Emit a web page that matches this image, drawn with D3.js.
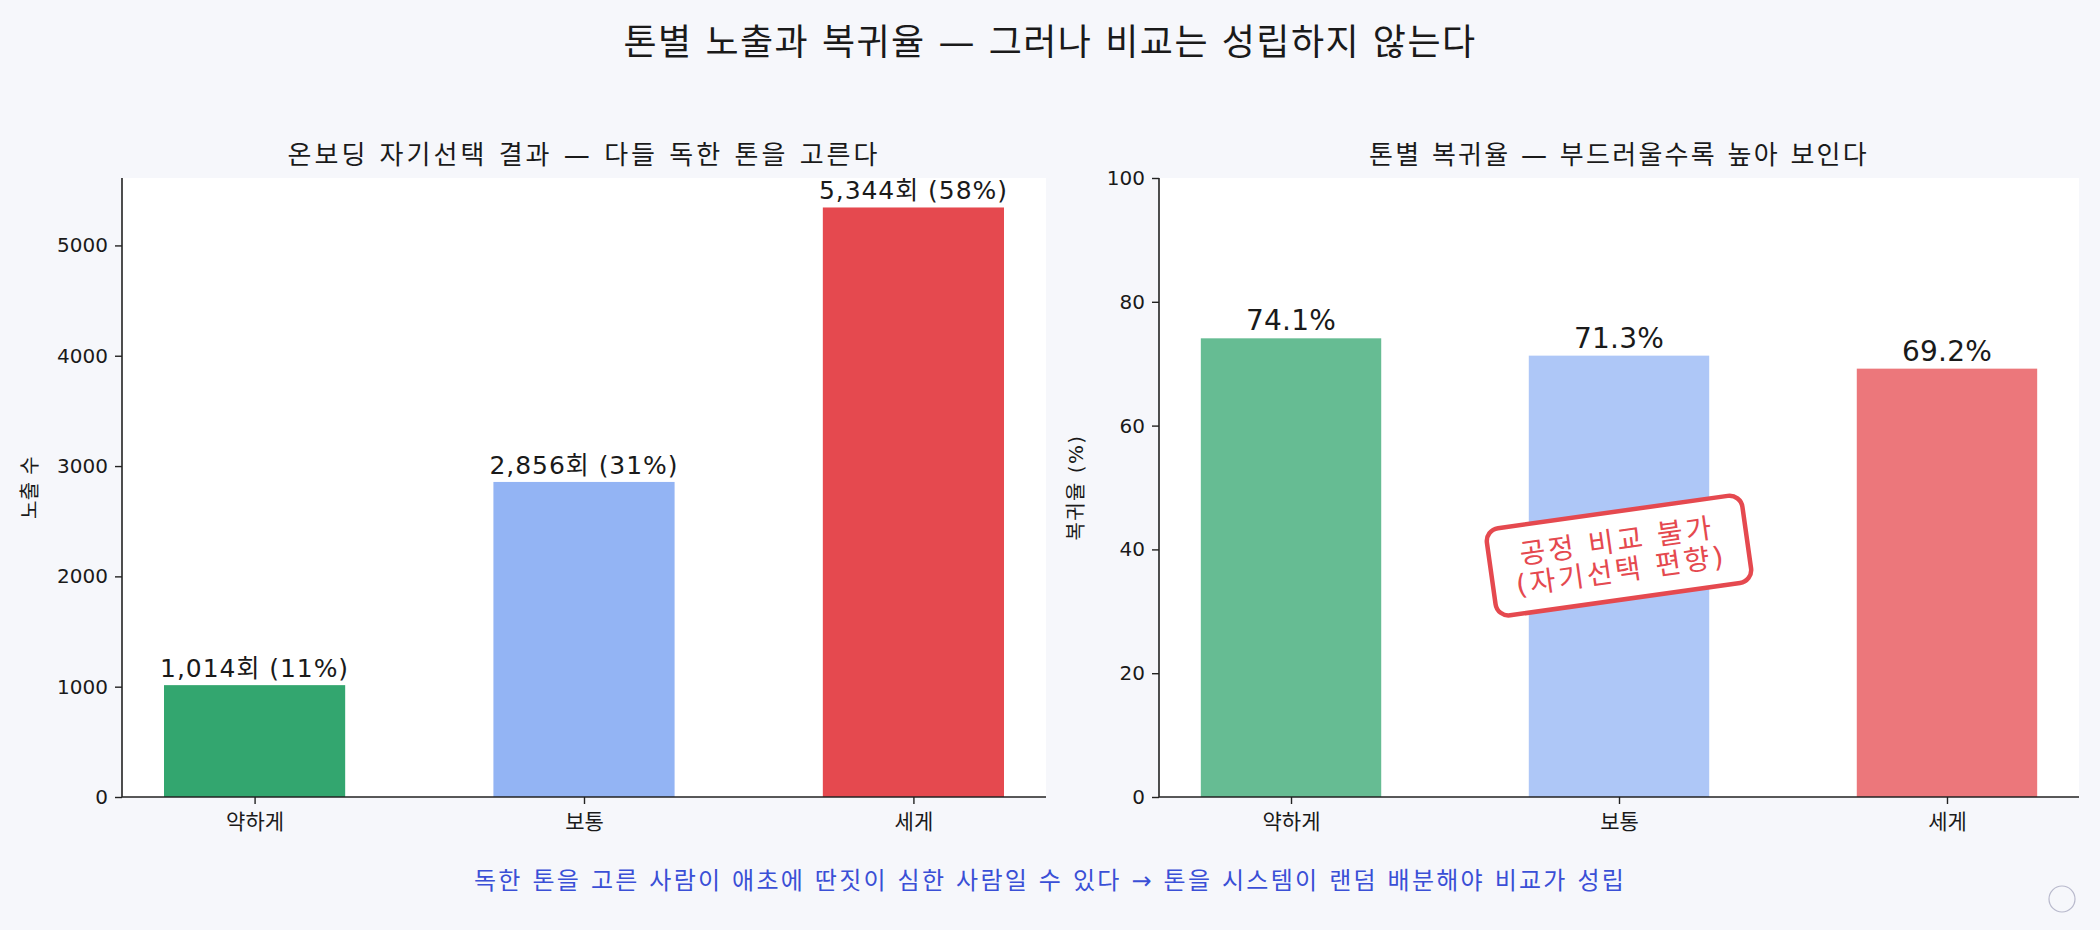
<!DOCTYPE html>
<html>
<head>
<meta charset="utf-8">
<script src="https://cdn.jsdelivr.net/npm/d3@7"></script>
<style>
  html, body { margin: 0; padding: 0; background: #f6f7fb; }
  svg text { font-family: "DejaVu Sans", "Noto Sans CJK KR", sans-serif; fill: #1a1a1a; }
</style>
</head>
<body>
<script>
// data
var tones = ['약하게', '보통', '세게'];
var exposures = [1014, 2856, 5344];
var shares = [11, 31, 58];
var returnRates = [74.1, 71.3, 69.2];
var toneColors = ['#33a66f', '#93b4f4', '#e5494f'];
var exposureTicks = [0, 1000, 2000, 3000, 4000, 5000];
var rateTicks = [0, 20, 40, 60, 80, 100];

var width = 2100, height = 930;
var svg = d3.select('body').append('svg').attr('width', width).attr('height', height);
svg.append('rect').attr('width', width).attr('height', height).attr('fill', '#f6f7fb');

// stretch a text to the width it has in the picture
function fit(sel, target) {
    sel.each(function () {
        var n = this.getNumberOfChars();
        var len = this.getComputedTextLength();
        d3.select(this).style('letter-spacing', ((target - len) / n) + 'px');
    });
}

// main title
svg.append('text').attr('x', 1050).attr('y', 55).attr('text-anchor', 'middle')
    .style('font-size', '36px').text('톤별 노출과 복귀율 — 그러나 비교는 성립하지 않는다')
    .call(fit, 853);

var plotTop = 178, plotBottom = 797;
var barW = 0.55;

function panel(o) {
    var x = d3.scaleLinear().domain([-barW / 2 - 0.1275, 2 + barW / 2 + 0.1275]).range([o.x0, o.x1]);
    var y = d3.scaleLinear().domain([0, o.yMax]).range([plotBottom, plotTop]);
    var g = svg.append('g');

    g.append('rect').attr('x', o.x0).attr('y', plotTop).attr('width', o.x1 - o.x0)
        .attr('height', plotBottom - plotTop).attr('fill', '#fff');

    g.selectAll('rect.bar').data(o.values).enter().append('rect')
        .attr('class', 'bar')
        .attr('x', function (d, i) { return x(i - barW / 2); })
        .attr('width', function (d, i) { return x(i + barW / 2) - x(i - barW / 2); })
        .attr('y', function (d) { return y(d); })
        .attr('height', function (d) { return plotBottom - y(d); })
        .attr('fill', function (d, i) { return toneColors[i]; })
        .attr('fill-opacity', o.opacity);

    g.selectAll('text.val').data(o.values).enter().append('text')
        .attr('class', 'val')
        .attr('x', function (d, i) { return x(i); })
        .attr('y', function (d) { return y(d) - 8; })
        .attr('text-anchor', 'middle')
        .style('font-size', o.labelSize + 'px')
        .text(o.label)
        .call(fit, o.labelWidth);

    var yAxis = g.append('g').attr('transform', 'translate(' + o.x0 + ',0)')
        .call(d3.axisLeft(y).tickValues(o.ticks).tickSize(7).tickPadding(7).tickFormat(d3.format('d')));
    var xAxis = g.append('g').attr('transform', 'translate(0,' + plotBottom + ')')
        .call(d3.axisBottom(x).tickValues([0, 1, 2]).tickSize(7).tickPadding(10)
            .tickFormat(function (i) { return tones[i]; }));
    [yAxis, xAxis].forEach(function (a) {
        a.selectAll('path').attr('stroke', '#222').attr('stroke-width', 1.6);
        a.selectAll('line').attr('stroke', '#222').attr('stroke-width', 1.4);
        a.selectAll('text').style('font-size', '20px').attr('fill', '#1a1a1a');
    });
    xAxis.selectAll('text').style('font-size', '21px');
    xAxis.select('path').attr('d', 'M' + o.x0 + ',0H' + o.x1);
    yAxis.select('path').attr('d', 'M0,' + plotBottom + 'V' + plotTop);

    g.append('text').attr('x', (o.x0 + o.x1) / 2).attr('y', 164).attr('text-anchor', 'middle')
        .style('font-size', '26px').text(o.title).call(fit, o.titleWidth);
    g.append('text')
        .attr('transform', 'translate(' + (o.x0 - o.ylabelOffset) + ',' + ((plotTop + plotBottom) / 2) + ') rotate(-90)')
        .attr('text-anchor', 'middle').style('font-size', '20px').text(o.ylabel)
        .call(fit, o.ylabelWidth);
    return { x: x, y: y };
}

panel({
    x0: 122, x1: 1046, values: exposures, yMax: 5344 * 1.05, ticks: exposureTicks,
    title: '온보딩 자기선택 결과 — 다들 독한 톤을 고른다', titleWidth: 593,
    ylabel: '노출 수', ylabelWidth: 63, ylabelOffset: 85, opacity: 1,
    label: function (d, i) { return d3.format(',')(d) + '회 (' + shares[i] + '%)'; },
    labelSize: 25, labelWidth: 189
});

var right = panel({
    x0: 1159, x1: 2079, values: returnRates, yMax: 100, ticks: rateTicks,
    title: '톤별 복귀율 — 부드러울수록 높아 보인다', titleWidth: 500,
    ylabel: '복귀율 (%)', ylabelWidth: 106, ylabelOffset: 76, opacity: 0.75,
    label: function (d) { return d.toFixed(1) + '%'; },
    labelSize: 28, labelWidth: 90
});

// stamp
var stamp = svg.append('g')
    .attr('transform', 'translate(' + right.x(1) + ',' + right.y(39) + ') rotate(-8)');
stamp.append('rect').attr('x', -129).attr('y', -44).attr('width', 258).attr('height', 88)
    .attr('rx', 13).attr('fill', '#fff').attr('stroke', '#e5494f').attr('stroke-width', 4.5);
stamp.selectAll('text').data(['공정 비교 불가', '(자기선택 편향)']).enter().append('text')
    .attr('x', 0).attr('y', function (d, i) { return -5 + i * 30; })
    .attr('text-anchor', 'middle').style('font-size', '28px').style('fill', '#e5494f')
    .text(function (d) { return d; })
    .each(function (d, i) { d3.select(this).call(fit, i ? 212 : 196); });

// footnote
svg.append('text').attr('x', 1050).attr('y', 889).attr('text-anchor', 'middle')
    .style('font-size', '24px').style('fill', '#3a4fd6')
    .text('독한 톤을 고른 사람이 애초에 딴짓이 심한 사람일 수 있다 → 톤을 시스템이 랜덤 배분해야 비교가 성립')
    .call(fit, 1152);

svg.append('circle').attr('cx', 2062).attr('cy', 899).attr('r', 13)
    .attr('fill', 'none').attr('stroke', '#b8b9cc').attr('stroke-width', 1.2);
</script>
</body>
</html>
